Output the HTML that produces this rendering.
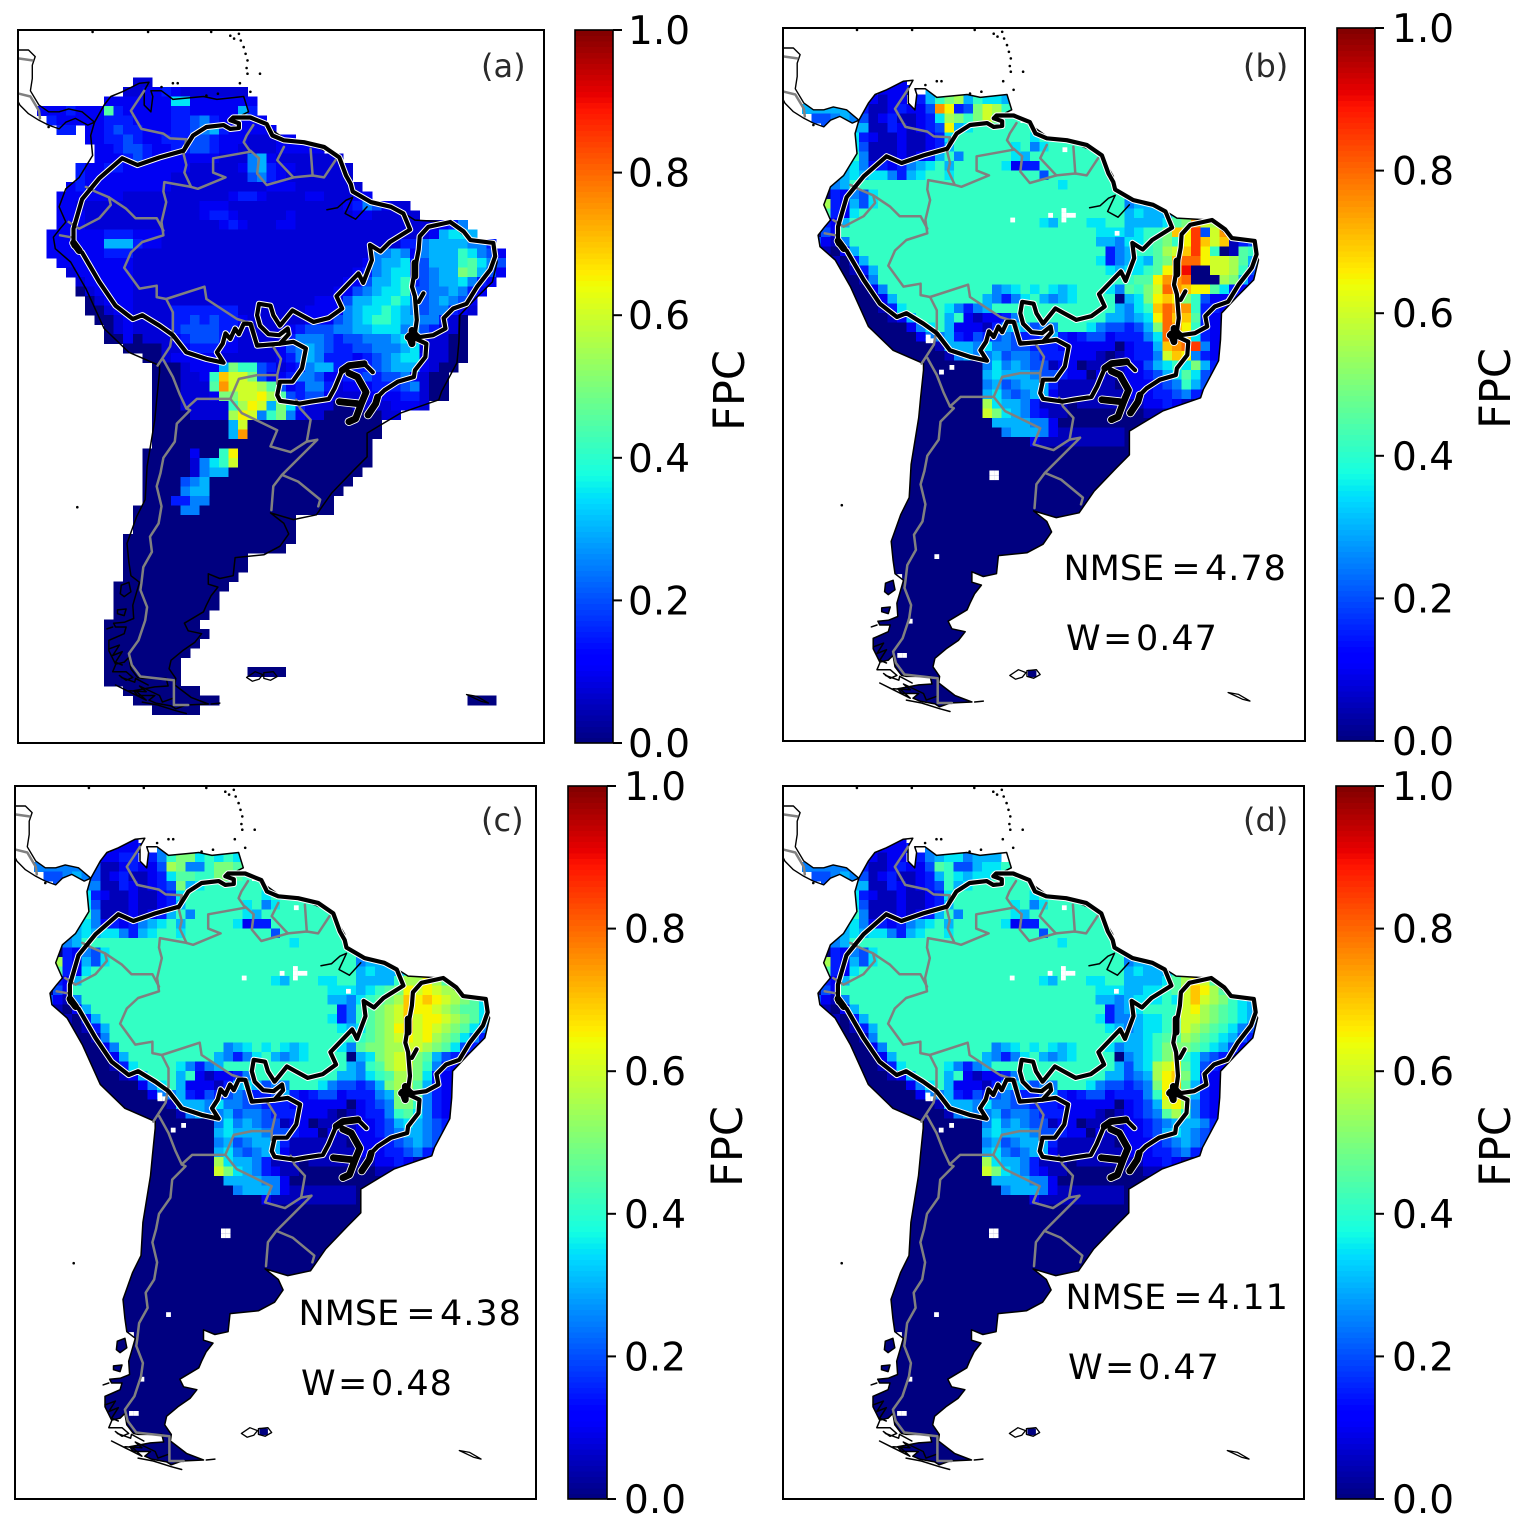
<!DOCTYPE html>
<html lang="en">
<head>
<meta charset="utf-8">
<title>FPC maps of South America</title>
<style>
html,body{margin:0;padding:0;background:#fff;}
svg{display:block;font-family:"DejaVu Sans","Liberation Sans",sans-serif;}
.panel-tag{font-size:32px;fill:#2a2a2a;}
.metric{font-size:35px;fill:#000;}
</style>
</head>
<body>
<svg id="figure" xmlns="http://www.w3.org/2000/svg" width="1522" height="1529" viewBox="0 0 1522 1529">
  <rect x="0" y="0" width="1522" height="1529" fill="#fff"/>
  <g id="maps"></g>
  <g id="bars"></g>
  <text class="panel-tag" x="481" y="77">(a)</text>
  <text class="panel-tag" x="1243" y="77">(b)</text>
  <text class="panel-tag" x="481" y="831">(c)</text>
  <text class="panel-tag" x="1243" y="831">(d)</text>
  <text class="metric" y="580"><tspan x="1063.5">NMSE</tspan><tspan x="1171.3">=</tspan><tspan x="1205" letter-spacing="1">4.78</tspan></text>
  <text class="metric" y="650"><tspan x="1066">W</tspan><tspan x="1103">=</tspan><tspan x="1136" letter-spacing="1">0.47</tspan></text>
  <text class="metric" y="1325"><tspan x="298.5">NMSE</tspan><tspan x="406.3">=</tspan><tspan x="440" letter-spacing="1">4.38</tspan></text>
  <text class="metric" y="1395"><tspan x="301">W</tspan><tspan x="338">=</tspan><tspan x="371" letter-spacing="1">0.48</tspan></text>
  <text class="metric" y="1309"><tspan x="1065.5">NMSE</tspan><tspan x="1173.3">=</tspan><tspan x="1207" letter-spacing="1">4.11</tspan></text>
  <text class="metric" y="1379"><tspan x="1068">W</tspan><tspan x="1105">=</tspan><tspan x="1138" letter-spacing="1">0.47</tspan></text>
</svg>
<script>
// ---- data: FPC grids. One character per 1 degree cell, base-36 level x 0.05, space = no data ----
const firstRow = 5;
const colorbarTicks = ["0.0","0.2","0.4","0.6","0.8","1.0"];
const colorbarTitle = "FPC";

const fpcA = [
"            11",
"           1122321111111",
"         2222222772222222",
"  22232229322222332222263",
"   32222233322223345322222",
"    33 22343322233456322222",
"       2233432233344322211122",
"        223443223344322111122222",
"        22234322222221115621111111",
"      32233222222211111256322111111",
"      32222222221111111145321111111",
"     2322222222211111111112221111111",
"    222222211111111111233211112211122",
"    2211111111111112221111111111112354211",
"    22211111111111123321111121111112211111",
"    2221111111111111123211122111111111111111235",
"   222222333222111111111111111111111111111126776",
"   22222266632211111111111111111111111113356666553",
"   222222333111111111111111111111111155652566687542",
"    22222222111111111111111111111111256673466689754",
"     12222221111111111111111111111123567734566a9642",
"      12222211111111111111111111112246678345667532",
"      0122221111111111111111111112245677844556532",
"       0122211111111111111111112224667787545654 2",
"       0012211113333333111111122225677876 5455321",
"        0012111133434332111111222456788766 55310",
"         012111134444331111123444556677756 43110",
"         00201112344432111113555434455567 521100",
"           00001123332211112456543344555671 1100",
"             00122222111111235653332345677 21100",
"              00012226a8843123566333345666 2100",
"              0001128ecca422355422334344 52100",
"              0001119fcccb9423553122233345100",
"              0001112aaccdb94344211122223 3100",
"              000111118bdc6a73111001111222 1",
"              00001111bdc58a521100000011",
"              000000006c00000000000000",
"              000000006f00000000000000",
"              00000000000000000000000",
"             000002008d00000000000000",
"             000001578c00000000000000",
"             00000156600000000000000",
"             0000456000000000000000",
"             000056600000000000000",
"             00033550000000000000",
"            000005500000000000000",
"            00000000000000000",
"            00000000000000000",
"           000000000000000000",
"           00000000000000000",
"           0000000000000",
"           0000000000000",
"           000000000000",
"          000000000000",
"          00000000000",
"          00000000000",
"          0000000000",
"         0000000000",
"         00000000000",
"         0000000000",
"         000000000",
"         00000000",
"         00000000       0000",
"         00000000",
"           00000000",
"            000000000                          000",
"              00000"
];

const fpcWest = [
"          222",
"          2223 665",
"         2122 368ab687766",
"  66666631123224fd34acb88",
"   44565412311237ba8aca88",
"    44 6611321234d6788888888",
"       73211211237888888887878888888",
"       74111211236888888785788888888888",
"       85111212368588888768888888888888",
"      675232356786888887233888888888888",
"     7676775367887888888888488888888888",
"     56888888888888888888888878888888888",
"     3254788888888888888888888888888888",
"    b32647888888888888888888888888888888",
"    93278888888888888888888888888888888888",
"    32688888888888888888888768887788",
"    42888888888888888888888888888777",
"   421588888888888888888888888888665",
"   2102688888888888888888888888888354",
"    010368888888888888888888888887353",
"     001368888888888888888888888887644",
"      00158888888888888888888888888864",
"       00258888888888856787876788875",
"        002688888888865357865678888 6",
"        0013788887535688888888888886",
"         0012688868212235888888888665",
"         000025786222136764558887544",
"          00002556324345433463234423",
"           000001666575544333222222 3",
"             000015655645543332221 12",
"              00000005756544122 11111",
"              000000067666544322 2111",
"              000000056456663111111 1",
"              00000006754566211111111",
"              0000000b7665311101111",
"              0000000ca7653211000000",
"              000000006666552 0",
"              0000000005666521",
"              00000000000021"
];

const fpcCNorth = [
"          2223 564",
"         2233 358aa78787",
"  55555541123224ba558aa98",
"   445654123112379988aa98",
"    44 5511321234a67888888888"
];

const fpcDNorth = [
"          2223 554",
"         2122 356775666",
"  555555311232249844677888",
"   44565412311236876778888",
"    44 6611321234867888888888"
];

const eastFirstRow = 17;

const fpcBEast = [
"58888","5667777","676668",
"666679afcb","6788aedh4cfb","7789a8dhece134","6889bcehd80198","6769aeggdccb96",
"7789ddi00ccb84","899dffg000ba63","98acgfedd9732","67adeda84222","578egff8332",
"567dgee9322","346agfd8322","3357ghe7322","2336efgh522","2335ced5321","2246787a632",
"2234679743","2223458642","222334532","1122321","00111"
];

const fpcCEast = [
"58888","5667777","676668",
"66668bbdb9","6789adcdcbb9","789abededcba97","89abceddcba997","89abcecddcba97",
"79abdecdcba975","89abcdcdba9753","9aabbccba97432","67abcca964322","589bcca8532",
"5789bba7322","346abb96322","3356ab95322","2345aa85322","23358975321","22346765432",
"2234566543","2223456542","222334532","1122321","00111"
];

const fpcDEast = [
"58888","5667777","676668",
"666679bdc9","667789cedb98","677787cecba876","678888cdba9876","567788ccba9876",
"567789cba98754","667899ba987643","6678aaa987642","5678ab8754322","467bcd97432",
"456bdea7322","345ade96322","3358dea6322","2346cdb5322","23459b85321","22345666532",
"2234676543","2223456542","222334532","1122321","00111"
];

// missing-data pixels (half degree cells) in the model panels: lon, lat
const holeLon = [-55.3,-60.8,-56.8,-55.4,-55.4,-55.4,-54.9,-54.4,-49.8,-69.7,-69.7,-69.2,-68.3,-67.2,-63,-62.5,-63,-62.5,-68.8,-72.7,-72.2,-72.7,-71.6];
const holeLat = [2.2,-5.2,-4.7,-4.2,-4.7,-5.2,-4.7,-4.7,-6.6,-17.5,-17.9,-17.9,-21.2,-20.7,-31.8,-31.8,-32.3,-32.3,-40.6,-51,-51,-42.7,-47.4];

// ---- geography, as lon,lat pairs ----
const coastEast = [-77,5.3,-76,7.1,-75.3,8,-74.1,8.5,-72.3,9.4,-71.3,9.5,-71.8,8.6,-71.8,7.1,-71.1,6.4,-70.9,8,-71.1,8.6,-70,8.6,-68.8,7.7,-65.6,8,-64.2,7.7,-61.4,8,-60.9,6.4,-62.1,5.8,-60.7,5.8,-58.6,4.6,-57.2,3.6,-55.1,3.2,-51.6,1.8,-50.2,-.6,-50.2,-2,-48.1,-3.1,-44.6,-4.3,-43.5,-5,-40,-5.2,-37.9,-7,-35.4,-7.5,-34.9,-9.4,-35.4,-11.5,-37.2,-13.3,-38.8,-15,-38.9,-17.8,-39.1,-20,-40.7,-23,-41,-23.9,-45,-25.3,-48.5,-27.4,-48.5,-29.9,-49.9,-31.3,-52.2,-33.7,-53.8,-36,-56.2,-36.5,-58.6,-35.8,-57.2,-36.9,-56.7,-38,-57.6,-39.3,-59.3,-40.2,-62.3,-40.5,-62.5,-42.4,-63.9,-42.7,-65.1,-42.2,-65.1,-43.3,-64.1,-43.6,-64.8,-44.5,-65.3,-45.5,-65.6,-46.2,-67.6,-47.4,-67.2,-48.2,-65.8,-48.5,-66.5,-49.4,-67.8,-50.3,-69,-51.3,-69.2,-52.2,-68.5,-53.2,-68.6,-53.9,-66.9,-55.2,-65.1,-55.9,-67.4,-56];
const southwestShore = [-68.5,-56.4,-69,-56.1,-70.6,-55.8,-71.3,-55.5,-70.7,-55,-72.5,-55,-72.9,-54.5,-70.7,-54.1,-69.3,-54,-69.5,-53.2,-72,-53.2,-72.5,-53.1,-73.2,-52.2,-73.4,-51,-73.9,-51.5,-74.8,-51.7,-75.1,-51.1,-75.5,-50.3,-75.5,-49.2,-74.8,-48.9,-73.9,-48.5,-73.7,-47.8,-74.8,-47.8,-75,-47.4,-73.9,-47.3,-72.9,-46.9,-73,-45.5,-72.7,-44.5,-72.3,-43.1,-73.2,-42.4,-73.4,-41];
const coastWest = [-73.6,-39,-72.6,-36.2,-71.7,-34.4,-71.5,-30.9,-70.7,-26,-70.5,-23.9,-70.2,-21,-70.2,-20.3,-73.4,-18.9,-76,-16.4,-77.9,-12.2,-79.5,-9.4,-81.1,-8,-81.3,-6.8,-80.6,-5.9,-80,-5.2,-80.7,-3.6,-80,-1.7,-78.6,-.5,-77.2,1.8,-77.4,3.9,-77,5.3];
const centralAmerica = [-77,5.3,-77.7,5,-79,5.7,-80,5.3,-80.7,4.6,-81.8,5,-82.8,5.5,-83.9,6.2,-84.8,7.1,-85,7.5,-85,12.9,-84.8,12.9,-83.9,12.9,-83.2,12.2,-83.5,11.3,-83.5,9.9,-83.7,8.6,-82.8,7.1,-81.8,6.4,-80.7,6.4,-79.7,6.7,-78.3,6.4,-77,5.3];
const smallLand = [
 [-74.2,-43.4,-73.4,-43.1,-73.2,-44.1,-73.9,-44.6,-74.3,-44.3],
 [-74.6,-46,-73.7,-45.9,-73.9,-46.6,-74.6,-46.4],
 [-59.2,-52.5,-58.3,-52.6,-58.3,-53.3,-59.2,-53.3]
];
const fjordLines = [
 [-74.2,-43.4,-73.4,-43.1,-73.2,-44.1,-73.9,-44.6,-74.3,-44.3,-74.2,-43.4],
 [-74.6,-46,-73.7,-45.9,-73.9,-46.6,-74.6,-46.4,-74.6,-46],
 [-75.7,-48,-75.1,-47.8],
 [-74.8,-51.8,-75.1,-52.5,-73.7,-52.5,-73,-53.1,-73.7,-53.4,-74.4,-52.9],
 [-74.8,-53.9,-73,-54.8,-71.6,-55.5,-72.7,-54.5],
 [-72,-55.7,-70.4,-56,-68.5,-56.6,-67.4,-56.9],
 [-75.5,-50.1,-74.4,-49.7,-75.1,-50.8,-74.1,-50.4,-74.8,-51.5,-74.1,-51.8],
 [-73.4,-54.5,-71.6,-54.6,-72.3,-54,-70.2,-55,-69.9,-55.7,-68.8,-55.3],
 [-74.2,-53.1,-72.8,-53.6,-72.7,-53.2,-71.4,-53.9],
 [-64.8,-55.9,-63.9,-55.8],
 [-52.7,-3.9,-51.6,-3.7,-50.7,-2.9,-50,-2.6,-50.8,-4.3,-49.7,-4.9,-48.5,-3.6]
];
const islandOutlines = [
 [-61.1,-53.1,-60.2,-52.5,-59.4,-52.8,-59.8,-53.3,-60.5,-53.5,-61.1,-53.1],
 [-59.3,-52.6,-58.3,-52.5,-57.9,-53,-58.6,-53.4,-59.3,-53.2,-59.3,-52.6],
 [-38.1,-54.9,-37,-55.1,-35.8,-55.8,-36.6,-55.6,-38.1,-54.9]
];
const islandDotLon = [-62.8,-61.9,-61.4,-61,-61,-61.8,-59.7,-68.8,-68.3,-70,-65.3,-64.1,-60.7,-81.8,-77.2,-71.4,-64.8,-78.8,-61.7,-61.2,-61.1,-62.4];
const islandDotLat = [14.4,14.6,13.2,11.8,10.4,9.4,10.4,9.4,9.4,9,8.1,8.3,8.5,4.8,14.8,14.8,14.8,-35.2,13.9,12.5,11,14.1];

const countryBorders = [
 [-71.8,8.6,-73.2,6.5,-72.1,4.6,-69.8,4.1,-69.1,3.6,-67.4,3.5,-67.7,2,-67.4,.8,-67.6,0,-66.9,-1.5,-66.2,-1.7,-63.3,-.5,-64.6,0,-64.6,1.5,-60.7,2.2,-61.4,3.2,-61.1,3.9,-60.4,5],
 [-60.7,2.3,-59.8,1.5,-60,-.1,-59,-1.3,-56.2,-.5,-54.2,-.3,-53,-.5,-51.8,1.3],
 [-56.2,-.5,-57.9,1.3,-57.2,2.7],
 [-54.2,-.3,-54.4,2.5],
 [-66.9,-1.5,-69.7,-1,-69.8,-2,-69.5,-3.1,-70,-5.2,-69.8,-6.6,-72,-7.3,-73.2,-8.4,-73.9,-10,-72.3,-12.2,-70.5,-11.9,-70.5,-13.1,-69.5,-13.3,-65.5,-12,-65.3,-13.3,-62.1,-15.4,-60.5,-15.9,-60,-18,-58.4,-18.2,-57.5,-19.6,-57.9,-21.3],
 [-69.5,-13.3,-68.8,-14.7,-68.8,-16.6,-69.1,-18.3,-70.4,-20.3],
 [-69.8,-19.7,-68.8,-21.5,-68.1,-23.3,-67.4,-24.8,-66.3,-23.8,-62.8,-23.8,-61.9,-21.7,-60,-21.3,-57.9,-21.3,-57.9,-22.2],
 [-62.8,-23.8,-61.6,-25.3,-57.9,-27.1,-58.6,-28.8,-56.5,-29.4,-54.8,-28.3,-54.4,-26,-55.5,-24.8,-55.9,-23.9],
 [-54.8,-28.3,-53.7,-28.1,-57.4,-31.8,-58.3,-33,-58.5,-35.5],
 [-57.4,-31.8,-55.7,-32.5,-53.4,-34.4,-53.6,-35.1],
 [-67.4,-24.8,-67,-25,-68.4,-26.4,-68.6,-28.3,-69.8,-30,-70.1,-31.6,-70.5,-33,-70,-35.1,-70.3,-36.9,-71.2,-38.3,-71,-39.9,-71.9,-41.5,-72.1,-43.2,-72.2,-43.9,-71.5,-45.7,-71.7,-47.1,-72.4,-49.2,-73.4,-50.6,-73.1,-51.8,-72.2,-53,-68.7,-53.4,-68.7,-56,-67.2,-56],
 [-79.7,-5.2,-78.6,-5.9,-76.5,-4.8,-75.3,-3.4,-75.5,-2.6,-76.9,-2,-77.9,-1.5],
 [-75.5,-2.6,-73.7,-3.8,-72.7,-4.8,-70.5,-4.8,-69.8,-6.1],
 [-80.6,-6.6,-79.5,-6.8],
 [-84.9,12,-83.5,11.8],
 [-84.9,8.3,-83.7,8,-82.8,6.5,-82.7,5.7]
];

const biomeLines = [
 [-62.8,4.6,-61.9,4.7,-61.9,5.2,-62.8,5.5,-62.5,5.8,-60.7,5.8,-59,5.1,-58.4,3.9,-57.2,3.4,-55.1,3.2,-53,2.7,-51.4,1.6,-50.7,-.3,-50.2,-1.2,-50,-2,-48.1,-3.1,-46,-3.6,-44.7,-4.3,-44,-6,-46.1,-7.3,-47.1,-8.3,-48.2,-7.6,-48,-9.2,-48.9,-11.6,-49.4,-10.6,-51.7,-13,-51.1,-14.3,-52.5,-15.3,-54.1,-15.7,-55.4,-15,-56.3,-14.5,-57.6,-16.1,-58.3,-15,-58.6,-14,-59.8,-13.8,-60,-15,-59.7,-16.1,-58.8,-17,-57.7,-17.1,-56.8,-16.4,-56.7,-17,-57.6,-18,-60,-18.2,-60.7,-15.9,-61.4,-15.9,-61.9,-17,-62.3,-16.4,-62.8,-17.5,-63.3,-16.9,-63.6,-18,-64.2,-18.9,-63.5,-20,-65.3,-19.6,-67.4,-18.9,-68.8,-17.1,-70.2,-16.1,-72,-15,-73,-15.4,-74.8,-14,-76.5,-11.5,-78.3,-8.4,-79.2,-7.7,-79.2,-5.9,-78.3,-2.8,-76.5,-.6,-74.1,1.5,-72.5,.8,-70.2,1.6,-67.7,2.3,-66.7,3.9,-65.3,4.8,-63.5,5,-62.8,4.6],
 [-42.1,-5.7,-39.8,-5.2,-38.4,-6.2,-37.7,-7.1,-35.3,-7.4,-35.1,-8.8,-35.6,-10.2,-37,-12,-38.1,-13.8,-39.5,-14.3,-40.5,-15.3,-40.3,-16.4,-41.6,-17.1,-43,-17.3,-43.5,-16.9,-43.3,-15.5,-43.5,-13,-43.8,-12,-43.5,-10.2,-43.1,-8.1,-43,-6.7,-42.1,-5.7],
 [-42.6,-12.7,-43.1,-13.6],
 [-43.8,-17.3,-42.3,-18,-42.4,-19.4,-43.5,-20.8,-43.6,-21.5,-45.3,-22,-46.7,-22.9,-47.4,-23.6,-47.6,-24.3,-48.4,-25.5],
 [-57.6,-18,-56.2,-17.8,-54.9,-18.5,-55.3,-20.6,-56.3,-22,-57.6,-22,-57.9,-23.4,-57.6,-24,-55.5,-24.3,-54.4,-24.1,-52.5,-23.8,-51.9,-22.7,-51.1,-20.8,-50.4,-20.3,-48.8,-20.1,-47.9,-21]
];
const biomeBlobs = [
 [-50.4,-21.1,-49.5,-21.5,-48.6,-23.1,-49.1,-24.3,-49.7,-25.9,-50.4,-26.2],
 [-51.4,-24.1,-49.5,-24.3],
 [-51.1,-20.8,-50.4,-20.3,-48.8,-20.1],
 [-47.4,-23.6,-47.6,-24.3,-48.4,-25.5],
 [-43.5,-10.9,-43.5,-9.5],
 [-44.2,-17.3,-43.3,-17.3,-43.8,-16.6,-43.8,-18,-44.1,-17.2],
 [-79.2,-7.4,-78.6,-8.2]
];

// ---- axes ----
const lonMin = -85, lonMax = -30, latMax = 15, latMin = -60;
const frames = {
  a:{x:18,y:30,w:526,h:713,bx:575,bw:38,by:30,bh:713,tx:628,lx:744},
  b:{x:783,y:28,w:522,h:713,bx:1337,bw:38,by:28,bh:713,tx:1392,lx:1510},
  c:{x:15,y:786,w:521,h:713,bx:568,bw:39,by:786,bh:713,tx:624,lx:742},
  d:{x:783,y:786,w:521,h:713,bx:1336,bw:39,by:786,bh:713,tx:1392,lx:1510}
};
const NS = "http://www.w3.org/2000/svg";
function mk(tag, parent){ const e = document.createElementNS(NS, tag); parent.appendChild(e); return e; }
function lerpTable(t, v){
  for(let k=1;k<t.length;k++){
    if(v<=t[k][0]){ const a=t[k-1], b=t[k]; return a[1]+(b[1]-a[1])*(v-a[0])/(b[0]-a[0]); }
  }
  return t[t.length-1][1];
}
const jetR=[[0,0],[.35,0],[.66,1],[.89,1],[1,.5]];
const jetG=[[0,0],[.125,0],[.375,1],[.64,1],[.91,0],[1,0]];
const jetB=[[0,.5],[.11,1],[.34,1],[.65,0],[1,0]];
function jet(v){
  const c=[jetR,jetG,jetB].map(t=>Math.round(255*lerpTable(t,Math.max(0,Math.min(1,v)))));
  return "rgb("+c.join(",")+")";
}
function lonScale(f){ return lon => f.x + (lon-lonMin)/(lonMax-lonMin)*f.w; }
function latScale(f){ return lat => f.y + (latMax-lat)/(latMax-latMin)*f.h; }
function ptsOf(arr, sx, sy){
  const out=[];
  for(let k=0;k<arr.length;k+=2){ out.push(sx(arr[k]).toFixed(1)+","+sy(arr[k+1]).toFixed(1)); }
  return out.join(" ");
}
function composeGrid(west, north, east){
  const rows=[];
  const total=70;
  for(let r=0;r<total;r++){
    const j=r+firstRow;
    let w = (north && r>=1 && r<=north.length) ? north[r-1] : (west[r]||"");
    if(j>=14){ w=w.replace(/ /g,"0"); }
    const last = w.length ? w[w.length-1] : "0";
    const fill = (j>=11 && last!==" ") ? last : "0";
    w = j<14 && w.length<36 ? w.padEnd(36, j>=11?fill:" ") : w.padEnd(36, fill).slice(0,36);
    const e = j>=eastFirstRow ? (east[j-eastFirstRow]||"").replace(/ /g,"0") : "";
    rows.push(w+e.padEnd(19,"0"));
  }
  return rows;
}
const grids = {
  a: fpcA.map(s=>s.replace(/(\S) (\S)/g,"$1$2")),
  b: composeGrid(fpcWest, null, fpcBEast),
  c: composeGrid(fpcWest, fpcCNorth, fpcCEast),
  d: composeGrid(fpcWest, fpcDNorth, fpcDEast)
};
// keep the Panama gap in the observed panel's row 10
grids.a[5]=fpcA[5];
grids.a[62]=fpcA[62];
grids.a[65]=fpcA[65];

const mapsRoot=document.getElementById("maps");
const barsRoot=document.getElementById("bars");

["a","b","c","d"].forEach(function(id){
  const f=frames[id], sx=lonScale(f), sy=latScale(f);
  const g=mk("g",mapsRoot);
  
  

  // clip definitions
  const frameClip=mk("clipPath",g);
  frameClip.setAttribute("id","frame-clip-"+id);
  const fr=mk("rect",frameClip);
  fr.setAttribute("x",f.x); fr.setAttribute("y",f.y); fr.setAttribute("width",f.w); fr.setAttribute("height",f.h);
  const landClip=mk("clipPath",g);
  landClip.setAttribute("id","land-clip-"+id);
  const main=mk("polygon",landClip);
  main.setAttribute("points",ptsOf(coastEast.concat(southwestShore,coastWest),sx,sy));
  const ca=mk("polygon",landClip);
  ca.setAttribute("points",ptsOf(centralAmerica,sx,sy));
  smallLand.forEach(function(a){
    const p=mk("polygon",landClip);
    p.setAttribute("points",ptsOf(a,sx,sy));
  });

  // heatmap
  const cells=mk("g",g);
  
  
  cells.setAttribute("shape-rendering","crispEdges");
  if(id!=="a"){ cells.setAttribute("clip-path","url(#land-clip-"+id+")"); }
  grids[id].forEach(function(row,r){
    const lat=latMax-(r+firstRow);
    for(let i=0;i<row.length;i++){
      const ch=row[i];
      if(ch===" ") continue;
      const level=parseInt(ch,36);
      if(isNaN(level)) continue;
      const lon=lonMin+i;
      const rect=mk("rect",cells);
      
      
      const x0=sx(lon), x1=sx(lon+1), y0=sy(lat), y1=sy(lat-1);
      rect.setAttribute("x",x0.toFixed(1));
      rect.setAttribute("y",y0.toFixed(1));
      rect.setAttribute("width",(x1-x0+.4).toFixed(1));
      rect.setAttribute("height",(y1-y0+.4).toFixed(1));
      const bump = (id==="a" && level===1) ? 0.025 : (level===8 ? 0.012 : 0);
      rect.setAttribute("fill",jet(level*0.05+bump));
    }
  });

  // missing-data holes
  if(id!=="a"){
    const holes=mk("g",g);
    
    
    holeLon.forEach(function(lon,k){
      const h=mk("rect",holes);
      
      
      h.setAttribute("x",(sx(lon)-2.4).toFixed(1));
      h.setAttribute("y",(sy(holeLat[k])-2.4).toFixed(1));
      h.setAttribute("width","4.8");
      h.setAttribute("height","4.8");
      h.setAttribute("fill","#fff");
    });
  }

  const lines=mk("g",g);
  
  
  lines.setAttribute("clip-path","url(#frame-clip-"+id+")");
  lines.setAttribute("fill","none");
  lines.setAttribute("stroke-linejoin","round");
  lines.setAttribute("stroke-linecap","round");

  // coastline
  const coast=mk("polyline",lines);
  
  
  coast.setAttribute("points",ptsOf(coastEast.concat(southwestShore,coastWest),sx,sy));
  coast.setAttribute("stroke","#000");
  coast.setAttribute("stroke-width","1.5");
  const caLine=mk("polyline",lines);
  
  
  caLine.setAttribute("points",ptsOf(centralAmerica,sx,sy));
  caLine.setAttribute("stroke","#000");
  caLine.setAttribute("stroke-width","1.4");
  fjordLines.forEach(function(a){
    const l=mk("polyline",lines);
    
    
    l.setAttribute("points",ptsOf(a,sx,sy));
    l.setAttribute("stroke","#000");
    l.setAttribute("stroke-width","1.5");
  });
  islandOutlines.forEach(function(a){
    const l=mk("polyline",lines);
    
    
    l.setAttribute("points",ptsOf(a,sx,sy));
    l.setAttribute("stroke","#000");
    l.setAttribute("stroke-width","1.3");
  });
  islandDotLon.forEach(function(lon,k){
    const c=mk("circle",lines);
    
    
    c.setAttribute("cx",sx(lon).toFixed(1));
    c.setAttribute("cy",sy(islandDotLat[k]).toFixed(1));
    c.setAttribute("r","1.3");
    c.setAttribute("fill","#000");
  });

  // biome boundaries: white halo then black
  biomeLines.forEach(function(a){
    const l=mk("polyline",lines);
    
    
    l.setAttribute("points",ptsOf(a,sx,sy));
    l.setAttribute("stroke","#fff");
    l.setAttribute("stroke-width","6.2");
  });
  biomeBlobs.forEach(function(a){
    const l=mk("polyline",lines);
    
    
    l.setAttribute("points",ptsOf(a,sx,sy));
    l.setAttribute("stroke","#fff");
    l.setAttribute("stroke-width","8.5");
  });

  // country borders
  countryBorders.forEach(function(a){
    const l=mk("polyline",lines);
    
    
    l.setAttribute("points",ptsOf(a,sx,sy));
    l.setAttribute("stroke","#808080");
    l.setAttribute("stroke-width","2.5");
  });

  biomeLines.forEach(function(a){
    const l=mk("polyline",lines);
    
    
    l.setAttribute("points",ptsOf(a,sx,sy));
    l.setAttribute("stroke","#000");
    l.setAttribute("stroke-width","4.2");
  });
  biomeBlobs.forEach(function(a){
    const l=mk("polyline",lines);
    
    
    l.setAttribute("points",ptsOf(a,sx,sy));
    l.setAttribute("stroke","#000");
    l.setAttribute("stroke-width","6.8");
  });

  // frame
  const box=mk("rect",g);
  
  
  box.setAttribute("x",f.x); box.setAttribute("y",f.y);
  box.setAttribute("width",f.w); box.setAttribute("height",f.h);
  box.setAttribute("fill","none");
  box.setAttribute("stroke","#000");
  box.setAttribute("stroke-width","2");

  // colorbar
  const cb=mk("g",barsRoot);
  
  
  const steps=128;
  const valueY = v => f.by + (1-v)*f.bh;
  for(let s=0;s<steps;s++){
    const v0=s/steps, v1=(s+1)/steps;
    const seg=mk("rect",cb);
    
    
    seg.setAttribute("x",f.bx);
    seg.setAttribute("y",valueY(v1).toFixed(2));
    seg.setAttribute("width",f.bw);
    seg.setAttribute("height",(valueY(v0)-valueY(v1)+.5).toFixed(2));
    seg.setAttribute("fill",jet((v0+v1)/2));
    seg.setAttribute("shape-rendering","crispEdges");
  }
  const cbBox=mk("rect",cb);
  
  
  cbBox.setAttribute("x",f.bx); cbBox.setAttribute("y",f.by);
  cbBox.setAttribute("width",f.bw); cbBox.setAttribute("height",f.bh);
  cbBox.setAttribute("fill","none");
  cbBox.setAttribute("stroke","#000");
  cbBox.setAttribute("stroke-width","1.6");
  colorbarTicks.forEach(function(lbl){
    const v=parseFloat(lbl), y=valueY(v);
    const t=mk("line",cb);
    
    
    t.setAttribute("x1",f.bx+f.bw); t.setAttribute("x2",f.bx+f.bw+9);
    t.setAttribute("y1",y); t.setAttribute("y2",y);
    t.setAttribute("stroke","#000"); t.setAttribute("stroke-width","2");
    const tx=mk("text",cb);
    
    
    tx.setAttribute("x",f.tx);
    tx.setAttribute("y",y+14);
    tx.setAttribute("font-size","39");
    tx.setAttribute("fill","#000");
    tx.textContent=lbl;
  });
  const title=mk("text",cb);
  
  
  title.setAttribute("transform","translate("+f.lx+","+(f.by+f.bh/2+4)+") rotate(-90)");
  title.setAttribute("text-anchor","middle");
  title.setAttribute("font-size","43");
  title.setAttribute("fill","#000");
  title.textContent=colorbarTitle;
});
</script>
</body>
</html>
